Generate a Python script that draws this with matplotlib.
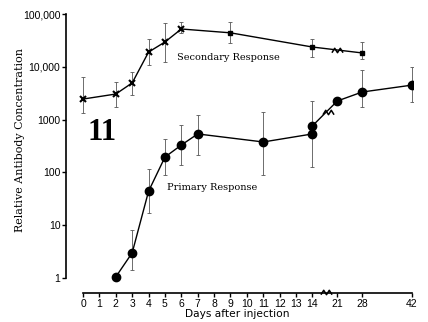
import numpy as np
import matplotlib
matplotlib.use('Agg')
import matplotlib.pyplot as plt
from matplotlib.path import Path

# Secondary response (days, value, error bar top, error bar bottom)
sec_days = [0, 2, 3, 4, 5, 6, 9, 14, 28]
sec_vals = [2450, 3050, 4950, 19000, 29500, 52000, 44000, 23700, 18300]
sec_hi = [6400, 5150, 8000, 33600, 67000, 70000, 70000, 33600, 29500]
sec_lo = [1330, 1740, 2930, 10800, 12300, 44000, 28000, 15400, 14000]

# Primary response
pri_days = [2, 3, 4, 5, 6, 7, 11, 14, 14, 21, 28, 42]
pri_vals = [1.05, 3.0, 44, 195, 330, 535, 377, 535, 760, 2250, 3330, 4500]
pri_hi = [np.nan, 8.1, 116, 430, 790, 1230, 1390, 2250, np.nan, np.nan, 8700, 9900]
pri_lo = [np.nan, 1.4, 17, 89, 138, 215, 89, 126, np.nan, np.nan, 1740, 2150]

# where the axis / curves are broken (day, value)
break_axis_day = 17.7
break_sec = (21, 21000)
break_pri = (18.3, 1390)

xticks = [0, 1, 2, 3, 4, 5, 6, 7, 8, 9, 10, 11, 12, 13, 14, 21, 28, 42]
yticks = [1, 10, 100, 1000, 10000, 100000]
ytick_labels = ['1', '10', '100', '1000', '10,000', '100,000']

SQ = 0.217  # compression of the axis after day 14
YMIN = 10 ** -0.284

def fwd(d):
    d = np.asarray(d, dtype=float)
    return np.where(d <= 14, d, 14 + (d - 14) * SQ)

def inv(u):
    u = np.asarray(u, dtype=float)
    return np.where(u <= 14, u, 14 + (u - 14) / SQ)

fig = plt.figure(figsize=(4.28, 3.22), dpi=100)
ax = fig.add_axes([66/428, 1 - 293/322, (413 - 66)/428, (293 - 14)/322])
ax.set_xscale('function', functions=(fwd, inv))
ax.set_yscale('log')

def errs(vals, lo, hi):
    v = np.array(vals, float)
    return np.vstack([v - np.array(lo, float), np.array(hi, float) - v])

ecol = '#555555'
# secondary
ax.errorbar(sec_days, sec_vals, yerr=errs(sec_vals, sec_lo, sec_hi), fmt='none',
            ecolor=ecol, elinewidth=0.6, capsize=1.5, capthick=0.6)
ax.plot(sec_days, sec_vals, color='black', lw=1.0)
ax.plot(sec_days[:6], sec_vals[:6], 'x', color='black', ms=4, mew=1.5)
ax.plot(sec_days[6:], sec_vals[6:], 's', color='black', ms=3.2)

# primary
ax.errorbar(pri_days, pri_vals, yerr=errs(pri_vals, pri_lo, pri_hi), fmt='none',
            ecolor=ecol, elinewidth=0.6, capsize=1.5, capthick=0.6)
ax.plot(pri_days, pri_vals, '-o', color='black', lw=1.0, ms=6)

# break marks (small zigzags)
zig = Path([(-1, -0.4), (-0.5, 0.4), (0, -0.4), (0.5, 0.4), (1, -0.4)],
           [Path.MOVETO] + [Path.LINETO] * 4)
brk = dict(marker=zig, ms=8, color='black', mfc='none', mew=1.1, ls='none', clip_on=False)
ax.plot(*break_sec, **brk)
ax.plot(*break_pri, **brk)

ax.set_xlim(-1.04, 42.3)
ax.set_ylim(YMIN, 1e5)
ax.plot([break_axis_day], [YMIN * 1.05], **brk)

for s in ['top', 'right']:
    ax.spines[s].set_visible(False)
ax.spines['left'].set_bounds(1, 1e5)
ax.spines['bottom'].set_bounds(0, 42)
ax.spines['left'].set_linewidth(1.2)
ax.spines['bottom'].set_linewidth(1.2)

ax.set_yticks(yticks)
ax.set_yticklabels(ytick_labels, family='Liberation Sans', fontsize=7.5)
ax.yaxis.set_minor_locator(matplotlib.ticker.NullLocator())
ax.set_xticks(xticks)
ax.set_xticklabels([str(t) for t in xticks], family='Liberation Sans', fontsize=7.5)
ax.xaxis.set_minor_locator(matplotlib.ticker.NullLocator())
ax.tick_params(axis='y', length=3, width=1, pad=1)
ax.tick_params(axis='x', length=3, width=1, pad=1.5)

ax.text(5.75, 13400, 'Secondary Response', family='DejaVu Serif', fontsize=7,
        ha='left', va='baseline')
ax.text(5.13, 46, 'Primary Response', family='DejaVu Serif', fontsize=7,
        ha='left', va='baseline')
ax.text(0.25, 410, '11', family='Liberation Serif', fontweight='bold', fontsize=22,
        ha='left', va='baseline')

fig.text(20/428, 1 - 140/322, 'Relative Antibody Concentration', family='DejaVu Serif',
         fontsize=8, rotation=90, ha='center', va='center')
fig.text(237/428, 1 - 314/322, 'Days after injection', family='DejaVu Sans',
         fontsize=7.7, ha='center', va='center')

fig.savefig('out.png', dpi=100)
